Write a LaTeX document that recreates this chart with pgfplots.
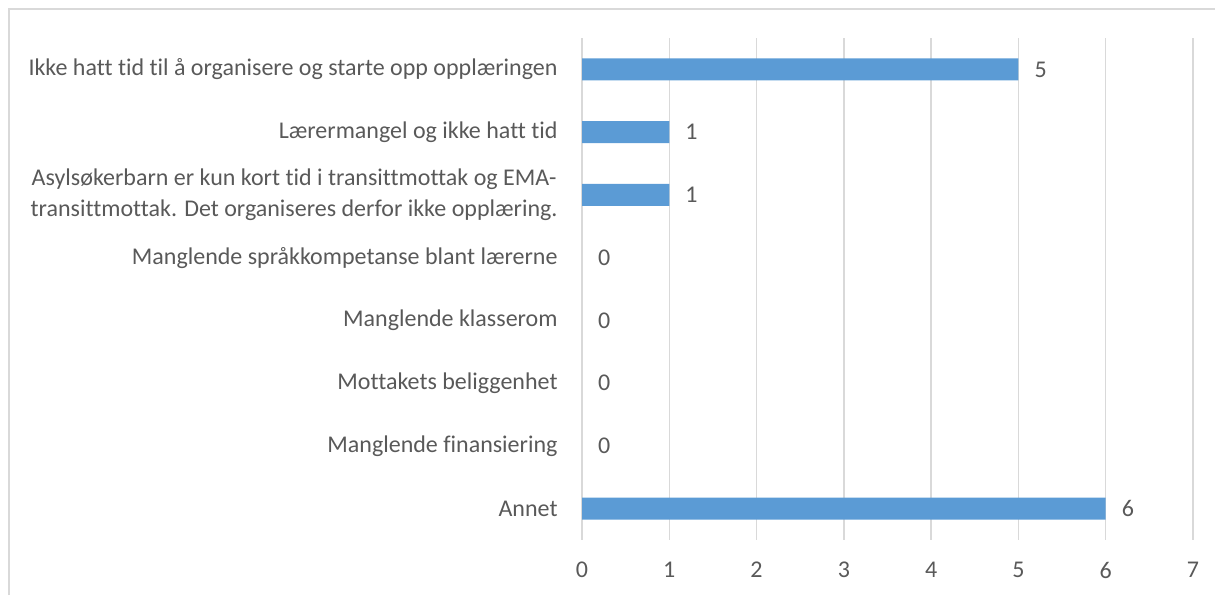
\documentclass[border=0pt]{standalone}
\usepackage{pgfplots}
\pgfplotsset{compat=1.18}
\usepackage{fontspec}
\setmainfont{Carlito}[Ligatures=NoCommon]
\definecolor{barc}{HTML}{5B9BD5}
\definecolor{txt}{HTML}{595959}
\definecolor{gridc}{HTML}{D9D9D9}
\begin{document}
\begin{tikzpicture}[x=1pt,y=1pt]
\useasboundingbox (0,0) rectangle (1215,595);
\draw[gridc, line width=1.5pt] (9,0) -- (9,586) -- (1215,586);
\begin{axis}[
  at={(582pt,55pt)}, anchor=south west,
  scale only axis, width=611pt, height=502pt,
  xmin=0, xmax=7, ymin=-0.5, ymax=7.5, y dir=reverse,
  xbar, bar width=0.35, bar shift=0pt,
  xtick={0,...,7}, ytick={0,...,7},
  yticklabels={
    {Ikke hatt tid til å organisere og starte opp opplæringen},
    {Lærermangel og ikke hatt tid},
    {Asylsøkerbarn er kun kort tid i transittmottak og EMA-\\transittmottak. Det organiseres derfor ikke opplæring.},
    {Manglende språkkompetanse blant lærerne},
    {Manglende klasserom},
    {Mottakets beliggenhet},
    {Manglende finansiering},
    {Annet}},
  xmajorgrids, major grid style={gridc, line width=1.3pt},
  axis line style={draw=none},
  tick style={draw=none},
  /pgf/number format/assume math mode=true,
  ticklabel style={font=\fontsize{24}{31}\selectfont, text=txt},
  yticklabel style={anchor=east, inner sep=0pt, xshift=-20pt, align=center},
  xticklabel style={anchor=north, inner sep=0pt, yshift=-22pt},
  nodes near coords,
  every node near coord/.append style={anchor=west, inner sep=0pt, xshift=16pt, text=txt, font=\fontsize{24}{31}\selectfont},
]
\addplot[fill=barc, draw=none] coordinates {(5,0) (1,1) (1,2) (6,7)};
\addplot[fill=none, draw=none] coordinates {(0,3) (0,4) (0,5) (0,6)};
\end{axis}
\end{tikzpicture}
\end{document}
